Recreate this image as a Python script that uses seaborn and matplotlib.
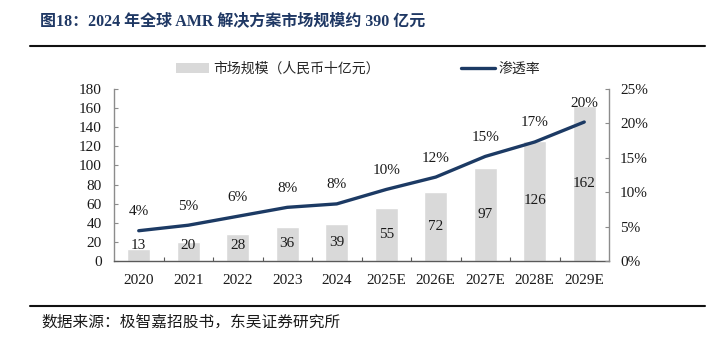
import matplotlib
matplotlib.use("Agg")
import matplotlib.pyplot as plt
from matplotlib.lines import Line2D
from matplotlib.patches import Patch
from matplotlib.ticker import MultipleLocator, FixedLocator, FuncFormatter
import seaborn as sns
import pandas as pd
import numpy as np

# Chart data
years = ["2020", "2021", "2022", "2023", "2024", "2025E", "2026E", "2027E", "2028E", "2029E"]
market_size = [13, 20, 28, 36, 39, 55, 72, 97, 126, 162]          # 人民币十亿元
penetration = [4.4, 5.2, 6.5, 7.8, 8.3, 10.4, 12.2, 15.2, 17.3, 20.2]  # %

title = "图18：2024 年全球 AMR 解决方案市场规模约 390 亿元"
source = "数据来源：极智嘉招股书，东吴证券研究所"
bar_label = "市场规模（人民币十亿元）"
line_label = "渗透率"

BAR_COLOR = "#d9d9d9"
LINE_COLOR = "#1c3a64"
TITLE_COLOR = "#1f3864"

sns.set_theme(style="white")
plt.rcParams["font.family"] = ["Liberation Serif", "Noto Sans CJK SC"]

df = pd.DataFrame({"year": years, "size": market_size,
                   "pos": np.arange(len(years)), "rate": penetration})

W, H = 711, 337
fig = plt.figure(figsize=(W / 100, H / 100), dpi=100)
ax = fig.add_axes([114 / W, 1 - 261 / H, (609 - 114) / W, (261 - 89) / H])

sns.barplot(data=df, x="year", y="size", color=BAR_COLOR, saturation=1,
            width=0.47, ax=ax, zorder=1)
ax.set_xlim(-0.5, len(years) - 0.5)
ax.set_ylim(0, 180)
ax.yaxis.set_major_locator(MultipleLocator(20))
ax.set_xlabel("")
ax.set_ylabel("")

ax2 = ax.twinx()
sns.lineplot(data=df, x="pos", y="rate", color=LINE_COLOR, linewidth=2.4,
             ax=ax2, zorder=3)
ax2.set_xlim(-0.5, len(years) - 0.5)
ax2.set_ylim(0, 25)
ax2.yaxis.set_major_locator(MultipleLocator(5))
ax2.yaxis.set_major_formatter(FuncFormatter(lambda v, _: f"{v:.0f}%"))
ax2.set_xlabel("")
ax2.set_ylabel("")

# Value labels on bars
for i, v in enumerate(market_size):
    ax.text(i, max(v / 2, 16.5), f"{v}", ha="center", va="center",
            fontsize=11, color="#1a1a1a", zorder=4)

# Penetration labels above the line
for i, v in enumerate(penetration):
    ax2.annotate(f"{v:.0f}%", (i, v), xytext=(0, 19), textcoords="offset pixels",
                 ha="center", va="center", fontsize=11, color="#1a1a1a")

# Spines and ticks
for a in (ax, ax2):
    a.spines["top"].set_visible(False)
    a.grid(False)
ax.spines["left"].set_color("#8c8c8c")
ax2.spines["left"].set_visible(False)
ax2.spines["right"].set_color("#8c8c8c")
ax2.spines["bottom"].set_visible(False)
ax.spines["right"].set_visible(False)
ax.spines["bottom"].set_color("#5a5a5a")
for a in (ax, ax2):
    for s in a.spines.values():
        s.set_linewidth(1.0)

ax.tick_params(axis="y", direction="in", length=3, width=0.8, color="#8c8c8c",
               pad=9, labelsize=11, labelcolor="#1a1a1a", left=True)
ax2.tick_params(axis="y", direction="in", length=3, width=0.8, color="#8c8c8c",
                pad=8, labelsize=11, labelcolor="#1a1a1a", right=True)
ax.tick_params(axis="x", which="major", length=0, pad=9, labelsize=11,
               labelcolor="#1a1a1a")
ax.xaxis.set_minor_locator(FixedLocator(np.arange(0.5, len(years) - 1, 1.0)))
ax.tick_params(axis="x", which="minor", direction="in", length=3, width=0.8,
               color="#5a5a5a", bottom=True)

# Legend at the top
handles = [Patch(facecolor=BAR_COLOR, edgecolor="none"),
           Line2D([0], [0], color=LINE_COLOR, linewidth=2.4)]
fig.legend(handles, [bar_label, line_label], loc="center",
           bbox_to_anchor=(358 / W, 1 - 69 / H), ncol=2, frameon=False,
           fontsize=10, handlelength=2.4, handleheight=0.7,
           handletextpad=0.25, columnspacing=5.9)

# Title, rules and source
fig.text(40 / W, 1 - 21.5 / H, title, ha="left", va="center", fontsize=11.5,
         fontweight="bold", color=TITLE_COLOR)
fig.add_artist(Line2D([30 / W, 705 / W], [1 - 45.5 / H] * 2, color="#111111",
                      linewidth=1.5))
fig.add_artist(Line2D([30 / W, 705 / W], [1 - 306 / H] * 2, color="#111111",
                      linewidth=1.5))
fig.text(41 / W, 1 - 322.5 / H, source, ha="left", va="center", fontsize=11.3,
         color="#1a1a1a")

fig.savefig("out.png", dpi=100)
